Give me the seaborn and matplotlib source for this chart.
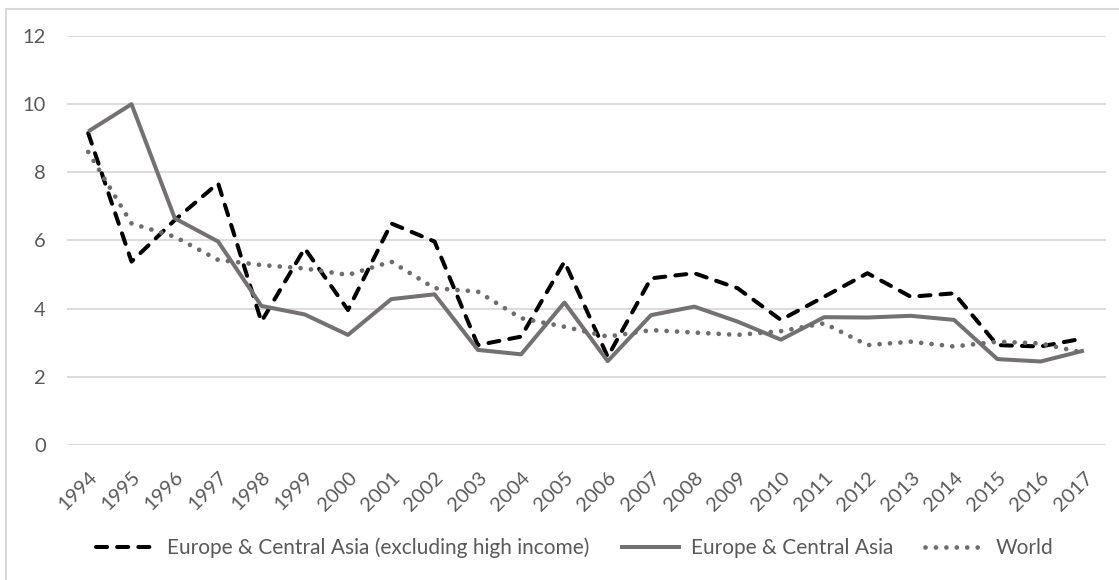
import pandas as pd
import seaborn as sns
import matplotlib.pyplot as plt
from matplotlib.patches import Rectangle

# --- data ---
years = [str(y) for y in range(1994, 2018)]

eca_excl_high = [9.15, 5.38, 6.6, 7.68, 3.62, 5.77, 3.96, 6.5, 5.97, 2.93, 3.18, 5.38,
                 2.59, 4.89, 5.04, 4.6, 3.67, 4.35, 5.04, 4.35, 4.45, 2.93, 2.89, 3.13]
eca = [9.2, 10.0, 6.65, 5.97, 4.08, 3.83, 3.23, 4.28, 4.42, 2.79, 2.66, 4.18,
       2.46, 3.81, 4.06, 3.62, 3.09, 3.75, 3.74, 3.79, 3.67, 2.52, 2.45, 2.77]
world = [8.6, 6.5, 6.11, 5.43, 5.28, 5.18, 4.99, 5.38, 4.6, 4.5, 3.72, 3.47,
         3.18, 3.37, 3.3, 3.23, 3.34, 3.57, 2.93, 3.03, 2.89, 3.03, 2.98, 2.7]

series_names = ["Europe & Central Asia (excluding high income)", "Europe & Central Asia", "World"]

df = pd.DataFrame({"year": years, series_names[0]: eca_excl_high,
                   series_names[1]: eca, series_names[2]: world})
long_df = df.melt(id_vars="year", var_name="series", value_name="value")

sns.set_theme(style="white")
plt.rcParams['font.family'] = ['Lato', 'DejaVu Sans']

fig = plt.figure(figsize=(11.19, 5.80), dpi=100)
ax = fig.add_axes([0.0595, 0.2328, 0.9285, 0.7051])

colors = {series_names[0]: "black", series_names[1]: "#767171", series_names[2]: "#6f6c6c"}
dashes = {series_names[0]: (2.75, 2.5), series_names[1]: "", series_names[2]: (0.01, 2.2)}

sns.lineplot(data=long_df, x="year", y="value", hue="series", style="series",
             palette=colors, dashes=dashes, linewidth=2.9, sort=False, ax=ax)

for line in ax.get_lines():
    line.set_solid_capstyle('butt')
    line.set_dash_capstyle('round')
ax.get_lines()[2].set_linewidth(3.4)

ax.set_ylim(0, 12)
ax.set_yticks(range(0, 13, 2))
ax.set_xlim(-0.5, len(years) - 0.5)
ax.yaxis.grid(True, color="#d9d9d9", linewidth=1.3)
ax.xaxis.grid(False)
for s in ax.spines.values():
    s.set_visible(False)
ax.set_xlabel("")
ax.set_ylabel("")
ax.tick_params(axis='y', labelsize=14.5, colors="#595959", length=0, pad=15)
ax.tick_params(axis='x', labelsize=14.5, colors="#595959", length=0, pad=17)
for lab in ax.get_xticklabels():
    lab.set_rotation(45)
    lab.set_ha('right')
    lab.set_rotation_mode('anchor')

handles, labels = ax.get_legend_handles_labels()
for h in handles:
    h.set_dash_capstyle('round')
handles[2].set_linewidth(3.4)
ax.legend(handles, labels, loc="center", bbox_to_anchor=(0.489, -0.252), ncol=3,
          frameon=False, fontsize=15, handlelength=2.9, columnspacing=1.5,
          handletextpad=0.5, labelcolor="#595959")

# outer chart border (top and left edges visible)
fig.patches.append(Rectangle((6 / 1119, -0.1), 1.2, 1.1 - 8.5 / 580,
                             transform=fig.transFigure, fill=False,
                             edgecolor="#d9d9d9", linewidth=1.5, zorder=0))
fig.savefig("out.png", dpi=100)
